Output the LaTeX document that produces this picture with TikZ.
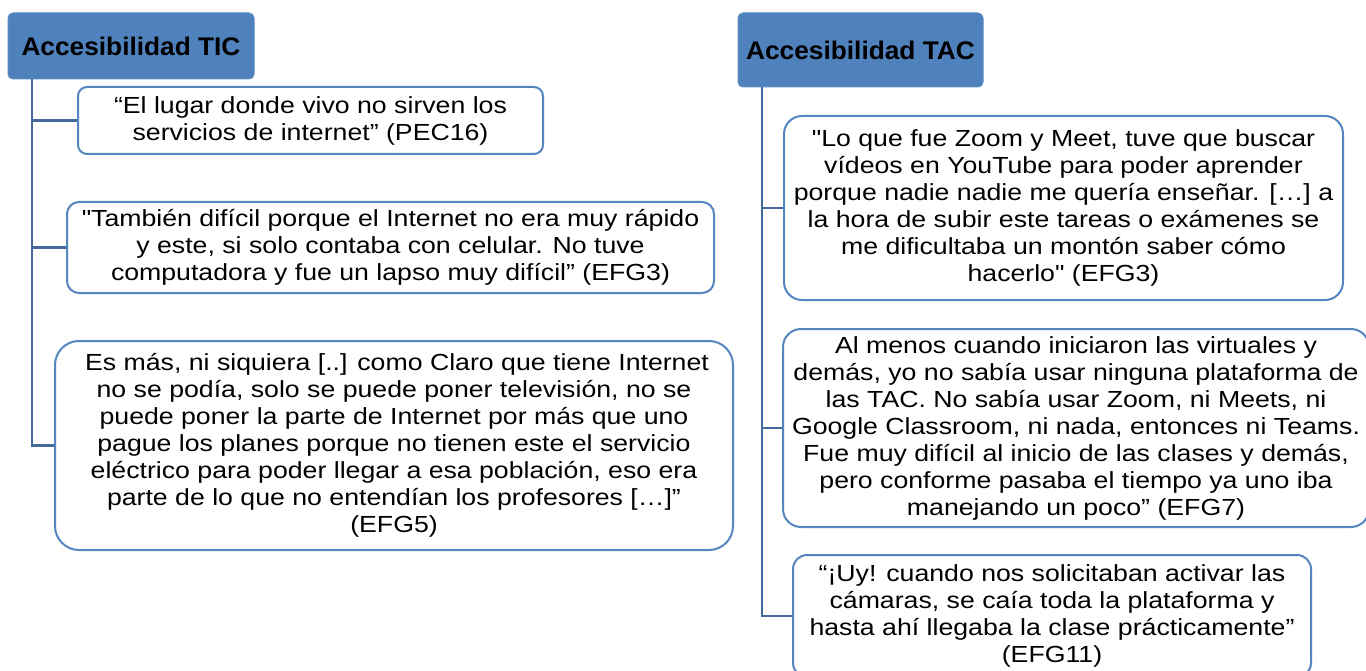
\documentclass[tikz,border=0pt]{standalone}
\usepackage{fontspec}
\newfontfamily\bodyf[FakeStretch=1.145]{Liberation Sans}
\newfontfamily\headf[FakeStretch=1.03]{Liberation Sans}
\definecolor{hdrfill}{HTML}{4F81BD}
\definecolor{hdrline}{HTML}{5A8AC4}
\definecolor{boxline}{HTML}{5686C0}
\definecolor{connline}{HTML}{44699C}
\tikzset{
  hdr/.style={draw=hdrline, line width=1pt, fill=hdrfill, rounded corners=5pt, inner sep=0pt,
    text=black, font=\headf\bfseries\fontsize{25.5}{28}\selectfont},
  quote/.style={draw=boxline, line width=2pt, fill=white, inner sep=0pt, align=center,
    text=black, font=\bodyf\fontsize{23.3}{27}\selectfont},
  conn/.style={draw=connline, line width=2.5pt}
}
\begin{document}
\begin{tikzpicture}[x=1pt,y=-1pt]
\clip (0,0) rectangle (1366,671);
\fill[white] (0,0) rectangle (1366,671);
% headers
\node[hdr, minimum width=246pt, minimum height=66pt] (tic) at (131,46) {Accesibilidad TIC};
\node[hdr, minimum width=245pt, minimum height=74pt] (tac) at (860.5,50) {Accesibilidad TAC};
% left column
\node[quote, rounded corners=9pt, minimum width=465pt, minimum height=67pt] (b1) at (310.5,120.5)
 {“El lugar donde vivo no sirven los\\servicios de internet” (PEC16)};
\node[quote, rounded corners=12pt, minimum width=647pt, minimum height=91pt] (b2) at (390.5,247.5)
 {"También difícil porque el Internet no era muy rápido\\y este, si solo contaba con celular. No tuve\\computadora y fue un lapso muy difícil” (EFG3)};
\node[quote, rounded corners=24pt, minimum width=678pt, minimum height=209pt] (b3) at (394,445.5)
 {\hspace{6pt}Es más, ni siquiera [..] como Claro que tiene Internet\\no se podía, solo se puede poner televisión, no se\\puede poner la parte de Internet por más que uno\\pague los planes porque no tienen este el servicio\\eléctrico para poder llegar a esa población, eso era\\parte de lo que no entendían los profesores […]”\\(EFG5)};
% right column
\node[quote, rounded corners=18pt, minimum width=559pt, minimum height=184pt] (b4) at (1063.5,208)
 {"Lo que fue Zoom y Meet, tuve que buscar\\vídeos en YouTube para poder aprender\\porque nadie nadie me quería enseñar. […] a\\la hora de subir este tareas o exámenes se\\me dificultaba un montón saber cómo\\hacerlo" (EFG3)};
\node[quote, rounded corners=18pt, minimum width=586pt, minimum height=198pt] (b5) at (1076,428)
 {Al menos cuando iniciaron las virtuales y\\demás, yo no sabía usar ninguna plataforma de\\las TAC. No sabía usar Zoom, ni Meets, ni\\Google Classroom, ni nada, entonces ni Teams.\\Fue muy difícil al inicio de las clases y demás,\\pero conforme pasaba el tiempo ya uno iba\\manejando un poco” (EFG7)};
\node[quote, rounded corners=14pt, minimum width=518pt, minimum height=122pt] (b6) at (1052,616)
 {“¡Uy! cuando nos solicitaban activar las\\cámaras, se caía toda la plataforma y\\hasta ahí llegaba la clase prácticamente”\\(EFG11)};
% connectors
\coordinate (tl) at (32,79);
\coordinate (tr) at (762,87);
\draw[conn] (tl) |- (b3.west);
\draw[conn] (tl |- b1.west) -- (b1.west);
\draw[conn] (tl |- b2.west) -- (b2.west);
\draw[conn] (tr) |- (b6.west);
\draw[conn] (tr |- b4.west) -- (b4.west);
\draw[conn] (tr |- b5.west) -- (b5.west);
\end{tikzpicture}
\end{document}
